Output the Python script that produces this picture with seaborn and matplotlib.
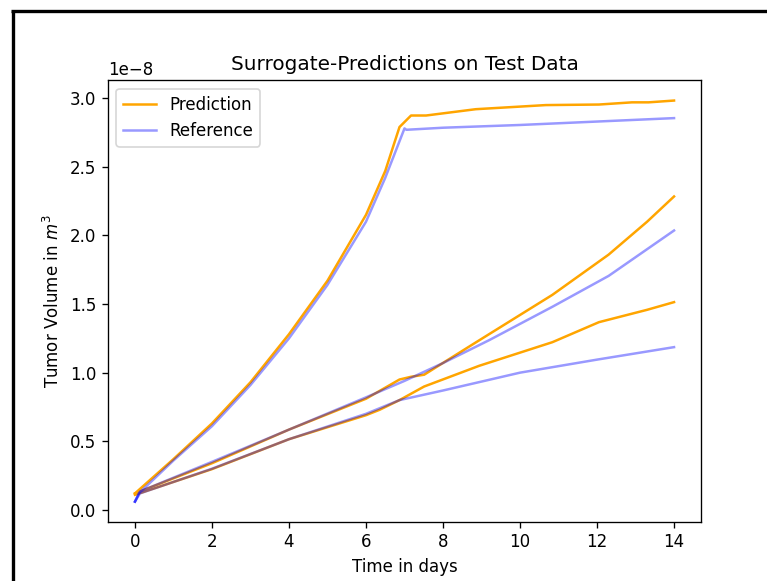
import matplotlib
matplotlib.use("Agg")
import matplotlib.pyplot as plt
from matplotlib.lines import Line2D
import numpy as np
import pandas as pd
import seaborn as sns

# ---- data (units of 1e-8 m^3) ----
pred_fast_t = [0, 1, 2, 3, 4, 5, 6, 6.5, 6.87, 7.17, 7.56, 8.85, 10.67, 12.05, 12.91, 13.34, 14]
pred_fast_v = [0.12, 0.37, 0.63, 0.93, 1.28, 1.67, 2.15, 2.47, 2.79, 2.874, 2.874, 2.92, 2.95, 2.954, 2.97, 2.97, 2.983]
ref_fast_t = [0, 0.1, 1, 2, 3, 4, 5, 6, 6.5, 7.0, 7.05, 8, 10, 12, 14]
ref_fast_v = [0.06, 0.12, 0.36, 0.61, 0.91, 1.25, 1.64, 2.1, 2.42, 2.78, 2.77, 2.785, 2.805, 2.83, 2.855]

pred_mid_t = [0, 2, 4, 6, 6.87, 7.17, 7.51, 8.85, 10.84, 12.3, 13.3, 14]
pred_mid_v = [0.12, 0.34, 0.585, 0.81, 0.95, 0.97, 0.985, 1.22, 1.567, 1.86, 2.10, 2.284]
ref_mid_t = [0, 0.13, 2, 4, 6, 7, 8, 9.2, 10.84, 12.3, 14]
ref_mid_v = [0.06, 0.134, 0.35, 0.585, 0.82, 0.94, 1.07, 1.237, 1.48, 1.705, 2.036]

pred_low_t = [0, 2, 4, 6, 6.35, 6.87, 7.51, 8.94, 10.84, 12.05, 13.3, 14]
pred_low_v = [0.11, 0.297, 0.515, 0.69, 0.729, 0.80, 0.899, 1.05, 1.222, 1.368, 1.458, 1.514]
ref_low_t = [0, 0.13, 2, 4, 6, 6.87, 8, 10, 12, 14]
ref_low_v = [0.06, 0.12, 0.30, 0.515, 0.70, 0.80, 0.87, 1.0, 1.095, 1.186]

SCALE = 1e-8

W, H, DPI = 767, 581, 120
fig = plt.figure(figsize=(W / DPI, H / DPI), dpi=DPI)
left, right, top, bottom = 108, 701, 80.5, 521.7
ax = fig.add_axes([left / W, 1 - bottom / H, (right - left) / W, (bottom - top) / H])

preds = [(pred_fast_t, pred_fast_v), (pred_mid_t, pred_mid_v), (pred_low_t, pred_low_v)]
refs = [(ref_fast_t, ref_fast_v), (ref_mid_t, ref_mid_v), (ref_low_t, ref_low_v)]

for i, (t, v) in enumerate(preds):
    df = pd.DataFrame({"t": t, "v": np.array(v) * SCALE})
    sns.lineplot(data=df, x="t", y="v", ax=ax, color="orange",
                 label="Prediction" if i == 0 else None, estimator=None, sort=False)
for i, (t, v) in enumerate(refs):
    df = pd.DataFrame({"t": t, "v": np.array(v) * SCALE})
    sns.lineplot(data=df, x="t", y="v", ax=ax, color="blue", alpha=0.4,
                 label="Reference" if i == 0 else None, estimator=None, sort=False)

ax.set_title("Surrogate-Predictions on Test Data")
ax.set_xlabel("Time in days")
ax.set_ylabel("Tumor Volume in $m^3$")
ax.set_xticks([0, 2, 4, 6, 8, 10, 12, 14])
ax.legend(loc="upper left")

# figure frame (left and top edges visible)
fig.add_artist(Line2D([12.5 / W, 12.5 / W], [0, 1 - 11 / H], color="black", linewidth=2.0,
                      transform=fig.transFigure, solid_capstyle="butt"))
fig.add_artist(Line2D([11.3 / W, 1], [1 - 11 / H, 1 - 11 / H], color="black", linewidth=2.0,
                      transform=fig.transFigure, solid_capstyle="butt"))

fig.savefig("out.png", dpi=DPI)
